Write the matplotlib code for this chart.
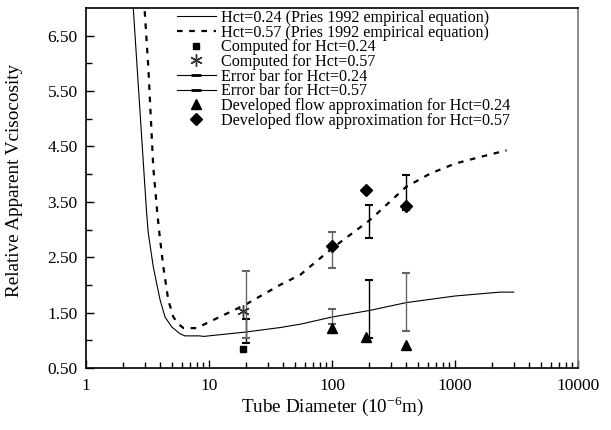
import matplotlib.pyplot as plt
import numpy as np
from matplotlib.lines import Line2D
from matplotlib.ticker import FixedLocator, FixedFormatter, NullFormatter

plt.rcParams['font.family'] = ['Liberation Serif', 'DejaVu Serif']

# Pries 1992 curves
d_024 = [2.3, 2.40, 3.11, 3.21, 3.52, 3.75, 4.0, 4.39, 4.98, 5.8, 6.36, 8.4, 9.0,
         20, 37.8, 55, 100, 203, 400, 1000, 2330, 3000]
v_024 = [7.3, 7.13, 3.29, 2.93, 2.33, 2.03, 1.73, 1.42, 1.24, 1.12, 1.08, 1.08, 1.07,
         1.15, 1.23, 1.29, 1.42, 1.54, 1.68, 1.80, 1.87, 1.87]

d_057 = [2.95, 2.98, 3.21, 3.52, 3.80, 3.95, 4.25, 4.66, 5.13, 5.6, 6.2, 7.9,
         20, 37.8, 55, 100, 203, 400, 628, 1000, 1600, 2630]
v_057 = [7.2, 7.04, 5.93, 4.13, 3.29, 2.93, 2.33, 1.73, 1.42, 1.30, 1.22, 1.22,
         1.65, 2.0, 2.18, 2.66, 3.17, 3.77, 4.01, 4.19, 4.31, 4.43]

# computed points
comp_d = [19]
comp_024 = [0.85]
comp_057 = [1.53]

# developed flow approximation
dev_d = [100, 190, 400]
dev_024 = [1.22, 1.06, 0.92]
dev_057 = [2.70, 3.72, 3.42]

# error bars (low, high)
err_d = [20, 100, 200, 400]
err_024_lo = [0.95, 1.29, 1.04, 1.17]
err_024_hi = [1.38, 1.56, 2.09, 2.21]
err_057_lo = [1.05, 2.30, 2.85, 3.35]
err_057_hi = [2.25, 2.95, 3.45, 3.98]
err_024_col = ['black', '#666666', 'black', '#666666']
err_057_col = ['#666666', '#666666', 'black', 'black']

fig = plt.figure(figsize=(6.11, 4.30), dpi=100)
ax = fig.add_axes([0.1408, 0.1442, 0.8052, 0.8372])

ax.plot(d_024, v_024, color='black', lw=0.8)
ax.plot(d_057, v_057, color='black', lw=1.6, dashes=(2.5, 3))

for i in range(len(err_d)):
    lo, hi = err_024_lo[i], err_024_hi[i]
    ax.errorbar([err_d[i]], [(lo + hi) / 2], yerr=[[(hi - lo) / 2], [(hi - lo) / 2]],
                fmt='none', ecolor=err_024_col[i], elinewidth=1, capsize=3, capthick=1.5)
    lo, hi = err_057_lo[i], err_057_hi[i]
    ax.errorbar([err_d[i]], [(lo + hi) / 2], yerr=[[(hi - lo) / 2], [(hi - lo) / 2]],
                fmt='none', ecolor=err_057_col[i], elinewidth=1, capsize=3, capthick=1.5)

ax.plot(comp_d, comp_024, 's', color='black', ms=4.5, ls='none')
ax.plot(comp_d, comp_057, marker=(6, 2, 0), color='#333333', ms=9, mew=1, ls='none')
ax.plot(dev_d, dev_024, '^', color='black', ms=7, ls='none')
ax.plot(dev_d, dev_057, 'D', color='black', ms=6.5, ls='none')

ax.set_xscale('log')
ax.set_xlim(1, 10000)
ax.set_ylim(0.5, 7.0)

ax.xaxis.set_major_locator(FixedLocator([1, 10, 100, 1000, 10000]))
ax.xaxis.set_major_formatter(FixedFormatter(['1', '10', '100', '1000', '10000']))
minors = [m * 10 ** k for k in range(4) for m in range(2, 10)]
ax.xaxis.set_minor_locator(FixedLocator(minors))
ax.xaxis.set_minor_formatter(NullFormatter())

yt = [0.5, 1.5, 2.5, 3.5, 4.5, 5.5, 6.5]
ax.set_yticks(yt)
ax.set_yticklabels(['%.2f' % v for v in yt])
ax.set_yticks([1.0, 2.0, 3.0, 4.0, 5.0, 6.0], minor=True)

ax.tick_params(which='major', direction='in', length=6, width=1, labelsize=12.5, pad=6)
ax.tick_params(which='minor', direction='in', length=4, width=1)
ax.tick_params(axis='x', which='major', pad=7)

for s in ['left', 'bottom', 'top']:
    ax.spines[s].set_linewidth(1.2)
ax.spines['right'].set_color('#777777')
ax.spines['right'].set_linewidth(1.2)

ax.set_xlabel('Tube Diameter (10$^{\\mathregular{-6}}$m)', fontsize=13.8, labelpad=0)
ax.set_ylabel('Relative Apparent Vcisocosity', fontsize=13.8)
ax.yaxis.set_label_coords(-0.128, 0.52)

handles = [
    Line2D([], [], color='black', lw=0.8),
    Line2D([], [], color='black', lw=1.6, dashes=(2.5, 3)),
    Line2D([], [], marker='s', color='black', ms=4.5, ls='none'),
    Line2D([], [], marker=(6, 2, 0), color='#333333', ms=9, mew=1, ls='none'),
    Line2D([], [], color='black', lw=0.8, marker='_', ms=7, mew=2),
    Line2D([], [], color='black', lw=0.8, marker='_', ms=7, mew=2),
    Line2D([], [], marker='^', color='black', ms=7, ls='none'),
    Line2D([], [], marker='D', color='black', ms=6.5, ls='none'),
]
labels = [
    'Hct=0.24 (Pries 1992 empirical equation)',
    'Hct=0.57 (Pries 1992 empirical equation)',
    'Computed for Hct=0.24',
    'Computed for Hct=0.57',
    'Error bar for Hct=0.24',
    'Error bar for Hct=0.57',
    'Developed flow approximation for Hct=0.24',
    'Developed flow approximation for Hct=0.57',
]
ax.legend(handles, labels, loc='upper left', bbox_to_anchor=(0.185, 0.995),
          frameon=False, fontsize=11.6, borderpad=0, borderaxespad=0,
          handlelength=2.4, handletextpad=0.3, labelspacing=-0.08)

fig.savefig('out.png', dpi=100)
